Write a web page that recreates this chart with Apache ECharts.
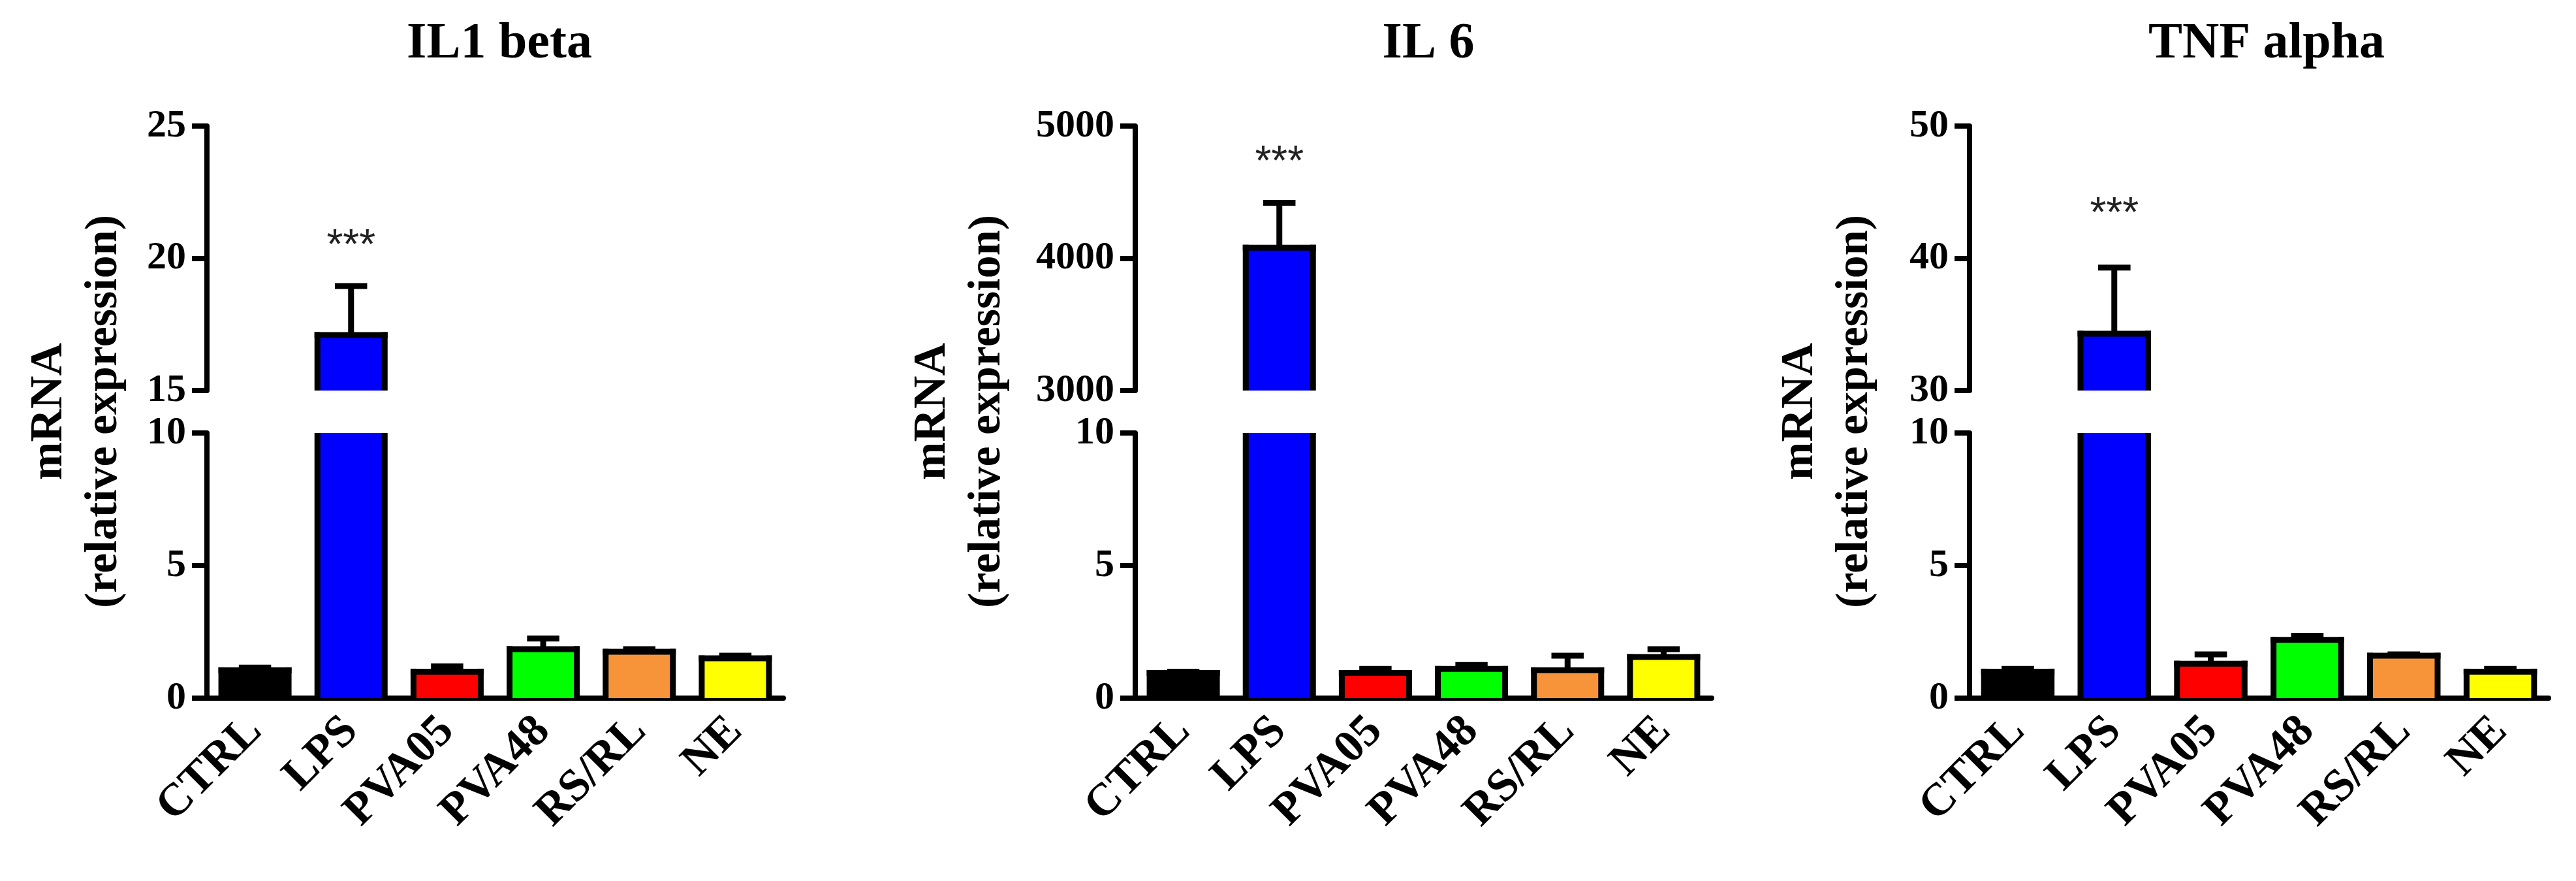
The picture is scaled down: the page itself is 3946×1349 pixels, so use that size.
<!DOCTYPE html>
<html>
<head>
<meta charset="utf-8">
<script src="https://cdn.jsdelivr.net/npm/echarts@6/dist/echarts.min.js"></script>
<style>
  html, body { margin: 0; padding: 0; background: #fff; }
  #chart { width: 3946px; height: 1349px; }
</style>
</head>
<body>
<div id="chart"></div>
<script>
// ========================================
// DATA
// ========================================
var categories = ['CTRL', 'LPS', 'PVA05', 'PVA48', 'RS/RL', 'NE'];
var barColors = ['#000000', '#0000ff', '#ff0000', '#00ff00', '#f7943a', '#ffff00'];

var il1Mean = [1.05, 17.1, 1.0, 1.85, 1.75, 1.5];
var il1Sd = [0.1, 1.85, 0.2, 0.4, 0.1, 0.1];
var il6Mean = [0.95, 4080, 0.95, 1.1, 1.05, 1.55];
var il6Sd = [0.05, 340, 0.15, 0.15, 0.55, 0.3];
var tnfMean = [1.0, 34.3, 1.3, 2.2, 1.6, 1.0];
var tnfSd = [0.1, 5.0, 0.35, 0.15, 0.05, 0.1];
var stars = ['', '***', '', '', '', ''];

var panels = [
  { title: 'IL1 beta', mean: il1Mean, sd: il1Sd, upper: [15, 25, 5], left: 317, width: 883, nameX: 118, titleX: 760, starGap: 60 },
  { title: 'IL 6', mean: il6Mean, sd: il6Sd, upper: [3000, 5000, 1000], left: 1739, width: 883, nameX: 1471, titleX: 2183, starGap: 60 },
  { title: 'TNF alpha', mean: tnfMean, sd: tnfSd, upper: [30, 50, 10], left: 3017, width: 887, nameX: 2800, titleX: 3467, starGap: 80 }
];
var lower = [0, 10, 5];

// ========================================
// LAYOUT
// ========================================
var TOP = 193, BREAK_TOP = 598, BREAK_BOTTOM = 663, BOTTOM = 1069;
var FONT = '"Liberation Serif", "Times New Roman", serif';
var LW = 9;

function makeRender(lo, hi, starGap) {
  return function (params, api) {
    var i = api.value(0), mean = api.value(1), sd = api.value(2);
    var star = stars[i];
    var bw = api.size([1, 0])[0] * 0.7;
    var children = [];
    if (mean <= lo) return { type: 'group', children: [] };
    var clipped = mean > hi;
    var pBase = api.coord([i, lo]);
    var pTop = api.coord([i, clipped ? hi : mean]);
    var x0 = pBase[0] - bw / 2, x1 = pBase[0] + bw / 2;
    children.push({
      type: 'rect',
      shape: { x: x0, y: pTop[1], width: bw, height: pBase[1] - pTop[1] },
      style: { fill: barColors[i] }
    });
    var lineStyle = { stroke: '#000', lineWidth: LW };
    children.push({ type: 'line', shape: { x1: x0, y1: pBase[1], x2: x0, y2: pTop[1] - (clipped ? 0 : LW / 2) }, style: lineStyle });
    children.push({ type: 'line', shape: { x1: x1, y1: pBase[1], x2: x1, y2: pTop[1] - (clipped ? 0 : LW / 2) }, style: lineStyle });
    if (!clipped) {
      children.push({ type: 'line', shape: { x1: x0 - LW / 2, y1: pTop[1], x2: x1 + LW / 2, y2: pTop[1] }, style: lineStyle });
      var pErr = api.coord([i, mean + sd]);
      var cap = bw * 0.24;
      children.push({ type: 'line', shape: { x1: pBase[0], y1: pTop[1], x2: pBase[0], y2: pErr[1] }, style: lineStyle });
      children.push({ type: 'line', shape: { x1: pBase[0] - cap, y1: pErr[1], x2: pBase[0] + cap, y2: pErr[1] }, style: lineStyle });
      if (star) {
        children.push({
          type: 'text',
          style: { text: star, x: pBase[0], y: pErr[1] - starGap, align: 'center', verticalAlign: 'middle',
                   font: '64px "Liberation Sans", Arial, sans-serif', fill: '#222' }
        });
      }
    }
    return { type: 'group', children: children };
  };
}

var grid = [], xAxis = [], yAxis = [], series = [], title = [], graphic = [];

panels.forEach(function (p, k) {
  var data = categories.map(function (c, i) { return [i, p.mean[i], p.sd[i]]; });
  var ranges = [p.upper, lower];
  ranges.forEach(function (r, j) {
    var idx = k * 2 + j;
    grid.push({
      left: p.left, width: p.width,
      top: j === 0 ? TOP : BREAK_BOTTOM,
      height: j === 0 ? BREAK_TOP - TOP : BOTTOM - BREAK_BOTTOM
    });
    xAxis.push({
      type: 'category', gridIndex: idx, data: categories, show: j === 1,
      axisLine: { lineStyle: { color: '#000', width: 8 } },
      axisTick: { alignWithLabel: true, length: 23, lineStyle: { color: '#000', width: 8 } },
      axisLabel: { rotate: 45, margin: 40, fontFamily: FONT, fontWeight: 'bold', fontSize: 70, color: '#000', interval: 0 },
      splitLine: { show: false }
    });
    yAxis.push({
      type: 'value', gridIndex: idx, min: r[0], max: r[1], interval: r[2],
      axisLine: { show: true, lineStyle: { color: '#000', width: 8 } },
      axisTick: { show: true, length: 23, lineStyle: { color: '#000', width: 8 } },
      axisLabel: { margin: 32, fontFamily: FONT, fontWeight: 'bold', fontSize: 60, color: '#000',
                   formatter: function (v) { return String(v); } },
      splitLine: { show: false }
    });
    series.push({
      type: 'custom', xAxisIndex: idx, yAxisIndex: idx, data: data,
      encode: { x: 0, y: 1 }, renderItem: makeRender(r[0], r[1], p.starGap), silent: true
    });
  });
  title.push({
    text: p.title, left: p.titleX, top: 24, textAlign: 'center',
    textStyle: { fontFamily: FONT, fontWeight: 'bold', fontSize: 78, color: '#000' }
  });
  graphic.push({
    type: 'text', x: p.nameX, y: 630, rotation: Math.PI / 2,
    style: { text: 'mRNA\n(relative expression)', align: 'center', verticalAlign: 'middle',
             font: 'bold 70px ' + FONT, lineHeight: 84, fill: '#000' }
  });
});

var chart = echarts.init(document.getElementById('chart'));
chart.setOption({
  animation: false,
  title: title,
  grid: grid,
  xAxis: xAxis,
  yAxis: yAxis,
  series: series,
  graphic: graphic
});
</script>
</body>
</html>
